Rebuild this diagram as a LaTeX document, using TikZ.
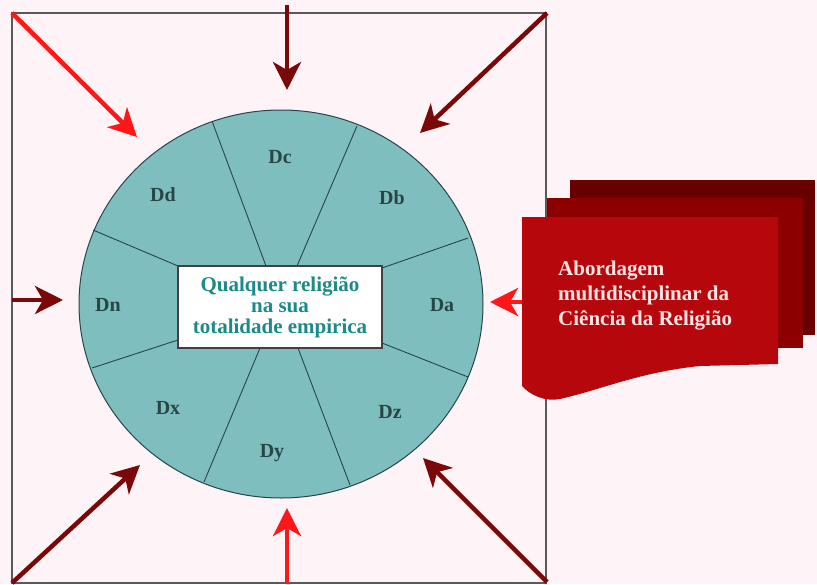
\documentclass[tikz,border=0pt]{standalone}
\usepackage{fontspec}
\setmainfont{Liberation Serif}
\usetikzlibrary{arrows.meta,shapes.geometric}

\definecolor{fundo}{RGB}{254,244,247}
\definecolor{tealclaro}{RGB}{126,190,190}
\definecolor{tealescuro}{RGB}{40,70,72}
\definecolor{tealtexto}{RGB}{28,138,138}
\definecolor{vermelho}{RGB}{255,22,22}
\definecolor{vinho}{RGB}{122,8,8}
\definecolor{folhaA}{RGB}{182,8,12}
\definecolor{folhaB}{RGB}{140,0,2}
\definecolor{folhaC}{RGB}{104,0,0}
\definecolor{textofolha}{RGB}{252,228,228}

\tikzset{
  moldura/.style={draw=black!65, line width=1.5pt},
  divisor/.style={tealescuro, line width=0.9pt},
  rotulo/.style={text=tealescuro, font=\bfseries\fontsize{20}{20}\selectfont},
  caixa/.style={draw=black!75, line width=1.3pt, fill=white, minimum width=204pt,
    minimum height=82pt, inner sep=0pt, align=center, text=tealtexto,
    font=\bfseries\fontsize{21}{21}\selectfont},
  seta/.style={->, line width=4.5pt}
}

\begin{document}
\begin{tikzpicture}[x=1pt, y=-1pt, >={Stealth[length=28pt,width=28pt,inset=8pt]}]
    \useasboundingbox (0,0) rectangle (817,584);
    \fill[fundo] (0,0) rectangle (817,584);

    % Moldura
    \draw[moldura] (12,13) rectangle (546,583);

    % Circulo das disciplinas
    \node[ellipse, draw=tealescuro, line width=1pt, fill=tealclaro, inner sep=0pt,
      minimum width=404pt, minimum height=388pt] (roda) at (281,304) {};

    % Divisores
    \foreach \ox/\oy/\ix/\iy in {212/121/266/266, 357/126/297/266, 93/230/178/266,
        468/238/382/268, 92/368/178/340, 204/482/260/348, 350/485/298/348, 468/377/382/343}
      \draw[divisor] (\ox,\oy) -- (\ix,\iy);

    % Centro
    \node[caixa] (centro) at (280,307) {Qualquer religião\\na sua\\totalidade empirica};

    % Disciplinas
    \foreach \nome/\x/\y in {Dc/280/157, Dd/163/195, Db/392/198, Da/442/305,
        Dn/108/305, Dx/168/408, Dy/272/453, Dz/390/412}
      \node[rotulo] (\nome) at (\x,\y) {\nome};

    % Folhas (abordagem)
    \fill[folhaC] (570,180) rectangle (815,335);
    \fill[folhaB] (547,198) rectangle (803,348);
    \fill[folhaA] (522,217) -- (778,217) -- (778,364) -- (700,366)
      .. controls (640,372) and (600,390) .. (560,399)
      .. controls (545,402) and (530,395) .. (522,386) -- cycle;
    \node[anchor=west, align=left, text=textofolha, inner sep=0pt,
      font=\bfseries\fontsize{21}{25}\selectfont] (abordagem) at (558,296)
      {Abordagem\\multidisciplinar da\\Ciência da Religião};

    % Setas
    \foreach \i/\ax/\ay/\bx/\by/\cor in {1/12/13/137/137/vermelho, 2/287/5/287/90/vinho,
        3/547/13/420/133/vinho, 4/12/300/63/300/vinho, 5/522/302/490/302/vermelho,
        6/12/583/140/465/vinho, 7/287/584/287/508/vermelho, 8/547/582/423/458/vinho} {
      \coordinate (cauda\i) at (\ax,\ay);
      \coordinate (ponta\i) at (\bx,\by);
      \draw[seta, \cor] (cauda\i) -- (ponta\i);
    }

\end{tikzpicture}
\end{document}
